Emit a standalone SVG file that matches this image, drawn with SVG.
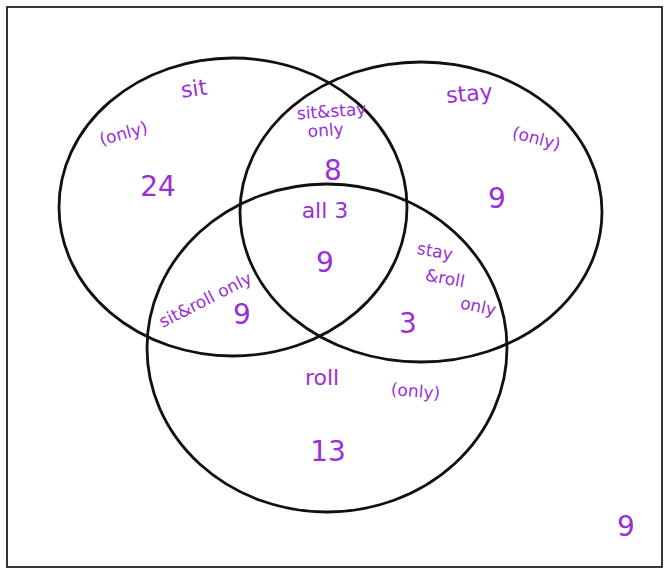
<svg xmlns="http://www.w3.org/2000/svg" width="665" height="572" viewBox="0 0 665 572">
<style>
.ring{fill:none;stroke:#111;stroke-width:2.8}
.frame{fill:none;stroke:#222;stroke-width:1.8}
.t{font-family:"DejaVu Sans","Liberation Sans",sans-serif;fill:#9b2fd6;font-weight:normal}
.s{font-size:17px}
.m{font-size:22px}
.n{font-size:28px}
</style>
<rect x="0" y="0" width="665" height="572" fill="#fff"/>
<rect class="frame" x="7" y="7" width="655" height="560"/>
<g id="sit">
<ellipse class="ring" cx="233" cy="207" rx="174" ry="149"/>
<text class="t m" x="195" y="96" text-anchor="middle" transform="rotate(-8 195 96)">sit</text>
<text class="t s" x="125" y="139" text-anchor="middle" transform="rotate(-15 125 139)">(only)</text>
<text class="t n" x="158" y="196" text-anchor="middle">24</text>
</g>
<g id="stay">
<ellipse class="ring" cx="421" cy="212" rx="181" ry="150"/>
<text class="t m" x="470" y="101" text-anchor="middle" transform="rotate(-5 470 101)">stay</text>
<text class="t s" x="535" y="144" text-anchor="middle" transform="rotate(15 535 144)">(only)</text>
<text class="t n" x="497" y="208" text-anchor="middle">9</text>
</g>
<g id="roll">
<ellipse class="ring" cx="327" cy="348" rx="180" ry="164"/>
<text class="t m" x="322" y="385" text-anchor="middle">roll</text>
<text class="t s" x="415" y="397" text-anchor="middle" transform="rotate(5 415 397)">(only)</text>
<text class="t n" x="328" y="461" text-anchor="middle">13</text>
</g>
<g id="sit-stay">
<text class="t s" x="332" y="117" text-anchor="middle" transform="rotate(-4 332 117)">sit&amp;stay</text>
<text class="t s" x="326" y="136" text-anchor="middle" transform="rotate(-4 326 136)">only</text>
<text class="t n" x="333" y="180" text-anchor="middle">8</text>
</g>
<g id="all">
<text class="t m" x="325" y="218" text-anchor="middle">all 3</text>
<text class="t n" x="325" y="272" text-anchor="middle">9</text>
</g>
<g id="sit-roll">
<text class="t s" x="208" y="305" text-anchor="middle" transform="rotate(-27 208 305)">sit&amp;roll only</text>
<text class="t n" x="242" y="324" text-anchor="middle">9</text>
</g>
<g id="stay-roll">
<text class="t s" x="434" y="257" text-anchor="middle" transform="rotate(10 434 257)">stay</text>
<text class="t s" x="444" y="284" text-anchor="middle" transform="rotate(10 444 284)">&amp;roll</text>
<text class="t s" x="477" y="312" text-anchor="middle" transform="rotate(12 477 312)">only</text>
<text class="t n" x="408" y="333" text-anchor="middle">3</text>
</g>
<g id="outside">
<text class="t n" x="626" y="536" text-anchor="middle">9</text>
</g>
<g id="connectors"></g>
</svg>
